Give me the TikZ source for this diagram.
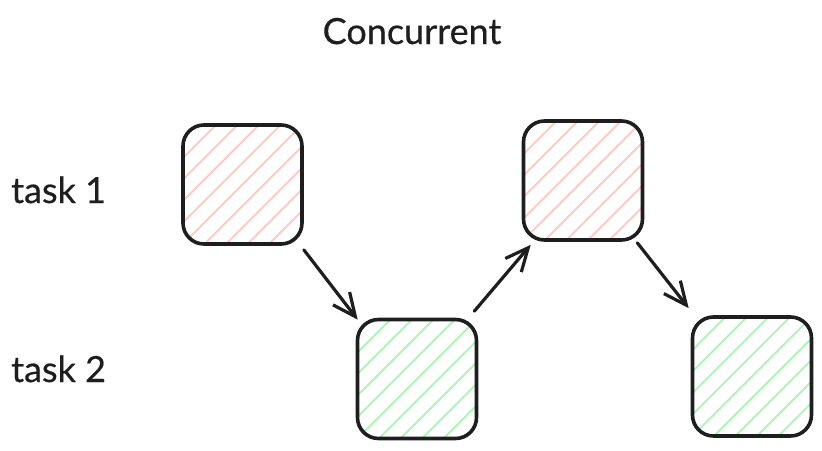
\documentclass[tikz,border=0pt]{standalone}
\usepackage{fontspec}
\setmainfont{Lato}[FakeBold=0.5]
\usetikzlibrary{arrows.meta,calc}
\definecolor{ink}{HTML}{1E1E1E}
\definecolor{redhatch}{HTML}{FFC9C9}
\definecolor{greenhatch}{HTML}{B2F2BB}
\tikzset{
 box/.style={draw=ink, line width=3.6pt, rounded corners=21pt, minimum width=119pt, minimum height=119pt, inner sep=0pt},
 hatch/.style={path picture={\foreach \i in {-8,...,8} {\draw[#1, line width=1.8pt] ($(path picture bounding box.center)+(\i*21.5pt-100pt,-100pt)$) -- ++(200pt,200pt);}}},
 redbox/.style={box, hatch=redhatch},
 greenbox/.style={box, hatch=greenhatch},
 arr/.style={draw=ink, line width=3.2pt, line cap=round, -{Straight Barb[length=23pt,width=21pt,line width=3.2pt]}},
 lbl/.style={text=ink, font=\fontsize{36}{40}\selectfont, inner sep=0pt}
}
\begin{document}
\begin{tikzpicture}[x=1pt,y=1pt]
\useasboundingbox (0,0) rectangle (822,-450);
\node[lbl, anchor=base] (title) at (412,-44) {Concurrent};
\node[lbl, anchor=base west] (t1) at (11,-203) {task 1};
\node[lbl, anchor=base west] (t2) at (11,-382) {task 2};
\node[redbox] (b1) at (242.5,-184.5) {};
\node[greenbox] (b2) at (417,-379) {};
\node[redbox] (b3) at (583,-180.5) {};
\node[greenbox] (b4) at (752,-376.5) {};
\draw[arr] ($(b1.south east)+(0,-4)$) -- ($(b2.north west)+(2,-2)$);
\draw[arr] ($(b2.north east)+(-4,6.5)$) -- ($(b3.south west)+(9,-3)$);
\draw[arr] ($(b3.south east)+(-7,-1)$) -- ($(b4.north west)+(-2,7)$);
\end{tikzpicture}
\end{document}
